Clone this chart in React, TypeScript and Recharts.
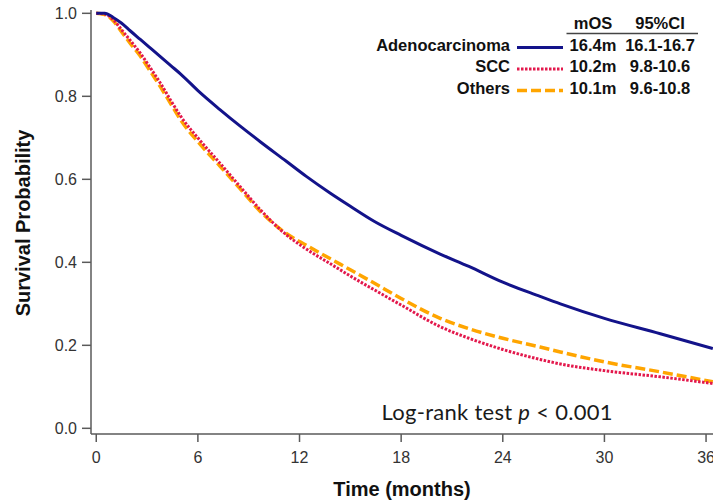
import React from 'react';
import { LineChart, Line, XAxis, YAxis, Legend, Label } from 'recharts';

// ---- Data ----
const times = [0, 0.5, 1, 1.5, 2, 2.6, 3.2, 3.8, 4.4, 5, 6.1, 7.3, 8.5, 9.7, 11.2, 12.4, 13.8, 15, 16.4, 18, 20.3, 22, 24, 26.2, 27.4, 30, 33.3, 36.4];
const adenoSurv = [1.0, 1.0, 0.99, 0.976, 0.958, 0.937, 0.916, 0.895, 0.874, 0.853, 0.81, 0.768, 0.728, 0.69, 0.644, 0.607, 0.567, 0.535, 0.499, 0.465, 0.42, 0.39, 0.352, 0.318, 0.3, 0.265, 0.228, 0.192];
const sccSurv = [1.0, 0.998, 0.985, 0.96, 0.935, 0.904, 0.868, 0.831, 0.79, 0.751, 0.695, 0.639, 0.582, 0.526, 0.467, 0.432, 0.397, 0.367, 0.334, 0.297, 0.245, 0.217, 0.19, 0.166, 0.155, 0.139, 0.124, 0.108];
const othersSurv = [1.0, 0.997, 0.982, 0.955, 0.928, 0.897, 0.86, 0.822, 0.782, 0.742, 0.686, 0.632, 0.577, 0.522, 0.47, 0.441, 0.409, 0.382, 0.35, 0.313, 0.265, 0.24, 0.217, 0.196, 0.184, 0.16, 0.136, 0.112];

const groups = ['Adenocarcinoma', 'SCC', 'Others'];
const seriesKeys = ['adeno', 'scc', 'others'];
const medianOS = ['16.4m', '10.2m', '10.1m'];
const ci95 = ['16.1-16.7', '9.8-10.6', '9.6-10.8'];

const xTicks = [0, 6, 12, 18, 24, 30, 36];
const yTicks = [0, 0.2, 0.4, 0.6, 0.8, 1.0];

const data = times.map((t, i) => ({
  t,
  adeno: adenoSurv[i],
  scc: sccSurv[i],
  others: othersSurv[i],
}));

// ---- Styles ----
const colors: Record<string, string> = { adeno: '#13138a', scc: '#e3184c', others: '#ffa500' };
const dashes: Record<string, string | undefined> = { adeno: undefined, scc: '2.5 1.5', others: '10 4' };
const widths: Record<string, number> = { adeno: 3, scc: 3, others: 3.5 };
const ARIAL = "'Liberation Sans', Arial, Helvetica, sans-serif";
const AXIS = '#5a5a5a';

const rowBase = [50.5, 72, 93.5];

const LegendBox = () => (
  <svg width={353} height={104} style={{ display: 'block', overflow: 'visible' }}>
    <g fontFamily={ARIAL} fontWeight="bold" fontSize={16.5} fill="#111">
      <text x={233} y={28.5} textAnchor="middle">mOS</text>
      <text x={300} y={28.5} textAnchor="middle">95%CI</text>
      <line x1={206.5} x2={338} y1={33.5} y2={33.5} stroke="#444" strokeWidth={1.5} />
      {groups.map((g, i) => {
        const k = seriesKeys[i];
        const b = rowBase[i];
        return (
          <g key={g}>
            <text x={150} y={b} textAnchor="end">{g}</text>
            <line
              x1={157}
              x2={203}
              y1={b - 3}
              y2={b - 3}
              stroke={colors[k]}
              strokeWidth={widths[k]}
              strokeDasharray={dashes[k]}
            />
            <text x={233} y={b} textAnchor="middle">{medianOS[i]}</text>
            <text x={300} y={b} textAnchor="middle">{ci95[i]}</text>
          </g>
        );
      })}
    </g>
  </svg>
);

const XTitle = (props: any) => {
  const vb = props.viewBox || { x: 91, y: 434, width: 622, height: 70 };
  return (
    <text
      x={vb.x + vb.width / 2}
      y={vb.y + vb.height - 8}
      textAnchor="middle"
      fontFamily={ARIAL}
      fontWeight="bold"
      fontSize={20}
      fill="#111"
    >
      Time (months)
    </text>
  );
};

const YTitle = (props: any) => {
  const vb = props.viewBox || { x: 0, y: 10, width: 91, height: 424 };
  const cx = 29.5;
  const cy = vb.y + vb.height / 2 + 1;
  return (
    <text
      x={cx}
      y={cy}
      textAnchor="middle"
      transform={`rotate(-90, ${cx}, ${cy})`}
      fontFamily={ARIAL}
      fontWeight="bold"
      fontSize={20}
      fill="#111"
    >
      Survival Probability
    </text>
  );
};

export default function App() {
  const drawOrder = ['others', 'scc', 'adeno'];
  return (
    <div style={{ position: 'absolute', left: 0, top: 0, width: 713, height: 504, background: '#fff' }}>
      <LineChart width={713} height={504} data={data} margin={{ top: 10, right: 0, bottom: 0, left: 0 }}>
        <XAxis
          dataKey="t"
          type="number"
          domain={[-0.31, 36.41]}
          ticks={xTicks}
          interval={0}
          height={70}
          tickSize={8}
          tickMargin={10}
          stroke={AXIS}
          strokeWidth={1.5}
          tick={{ fill: '#333', fontSize: 16, fontFamily: ARIAL }}
        >
          <Label content={XTitle} />
        </XAxis>
        <YAxis
          type="number"
          domain={[-0.0137, 1.008]}
          ticks={yTicks}
          interval={0}
          width={91}
          tickSize={9}
          tickMargin={5}
          stroke={AXIS}
          strokeWidth={1.5}
          tickFormatter={(v: number) => v.toFixed(1)}
          tick={{ fill: '#333', fontSize: 16, fontFamily: ARIAL }}
        >
          <Label content={YTitle} />
        </YAxis>
        {drawOrder.map((k) => (
          <Line
            key={k}
            type="monotone"
            dataKey={k}
            name={groups[seriesKeys.indexOf(k)]}
            stroke={colors[k]}
            strokeWidth={widths[k]}
            strokeDasharray={dashes[k]}
            dot={false}
            activeDot={false}
            isAnimationActive={false}
          />
        ))}
        <Legend
          layout="horizontal"
          verticalAlign="middle"
          align="center"
          content={() => <LegendBox />}
          wrapperStyle={{ left: 360, top: 0, width: 353, height: 104 }}
        />
      </LineChart>
      <svg
        width={713}
        height={504}
        style={{ position: 'absolute', left: 0, top: 0, pointerEvents: 'none' }}
      >
        <text
          x={381.5}
          y={419.5}
          fontFamily="Lato, 'Open Sans', sans-serif"
          fontSize={22}
          textLength={231}
          fill="#1a1a1a"
        >
          Log-rank test <tspan fontStyle="italic">p</tspan> &lt; 0.001
        </text>
      </svg>
    </div>
  );
}
